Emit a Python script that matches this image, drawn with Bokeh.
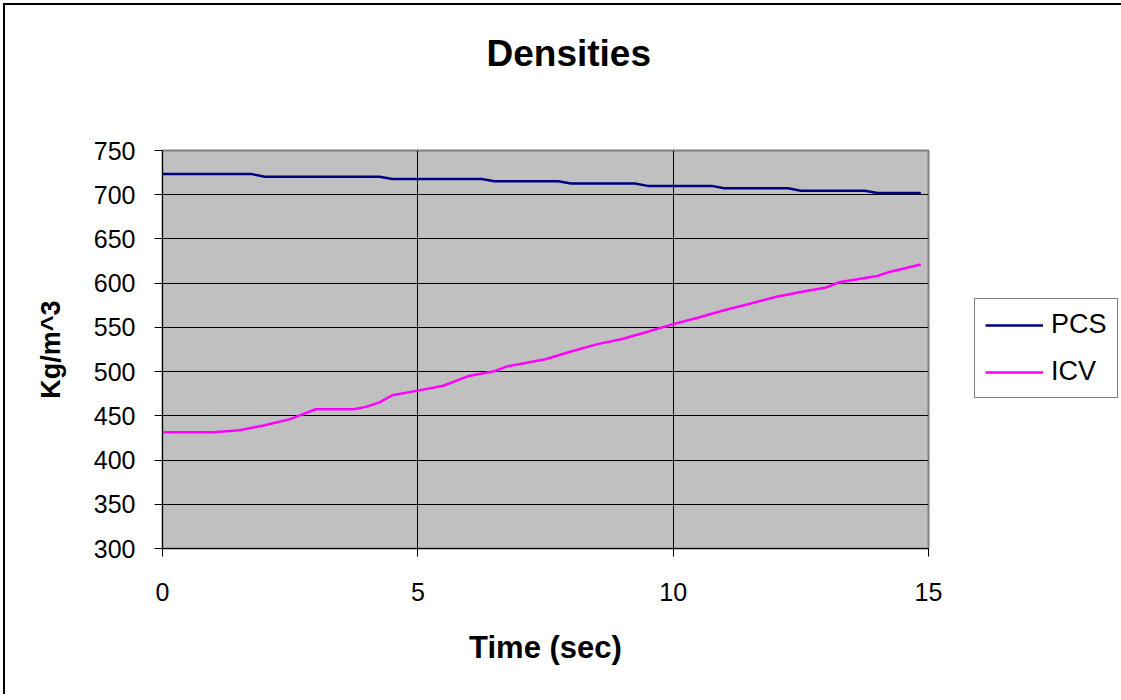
from bokeh.plotting import figure
from bokeh.models import FixedTicker, Legend, LegendItem, Title
from bokeh.embed import file_html
from bokeh.resources import INLINE

# ---- data ----
pcs_time = [0, 1.75, 2.0, 4.25, 4.5, 6.25, 6.5, 7.75, 8.0, 9.25, 9.5, 10.75,
            11.0, 12.25, 12.5, 13.75, 14.0, 14.85]
pcs_density = [723.3, 723.3, 720.4, 720.4, 717.8, 717.8, 715.2, 715.2, 712.6,
               712.6, 710.0, 710.0, 707.4, 707.4, 704.4, 704.4, 701.9, 701.9]

icv_time = [0, 0.5, 1.0, 1.5, 2.0, 2.5, 3.0, 3.75, 4.0, 4.25, 4.5, 5.0, 5.5,
            6.0, 6.5, 6.75, 7.5, 8.0, 8.5, 9.0, 9.5, 10.0, 10.5, 11.0, 11.5,
            12.0, 12.5, 13.0, 13.25, 14.0, 14.25, 14.85]
icv_density = [431.5, 431.5, 431.5, 433.7, 439.3, 446.3, 457.4, 457.4, 460.4,
               465.2, 473.3, 478.5, 484.0, 495.1, 500.5, 506.0, 514.0, 522.8,
               530.8, 536.8, 545.0, 553.7, 561.1, 569.3, 576.7, 584.4, 590.0,
               595.2, 601.0, 608.1, 613.0, 621.1]

x_ticks = [0, 5, 10, 15]
y_ticks = [300, 350, 400, 450, 500, 550, 600, 650, 700, 750]
series_names = ["PCS", "ICV"]
title_text = "Densities"

FONT = "Liberation Sans"

p = figure(output_backend="svg", toolbar_location=None,
           x_range=(0, 15), y_range=(300, 750),
           frame_width=766, frame_height=398,
           min_border_left=157, min_border_top=145,
           min_border_right=188, min_border_bottom=146)
p.styles = {"margin-left": "3px", "margin-top": "3px",
            "border-style": "solid none none solid",
            "border-width": "2px 0px 0px 2px",
            "border-color": "black"}

p.background_fill_color = "#C0C0C0"
p.border_fill_color = "white"
p.outline_line_color = "#808080"
p.outline_line_width = 2

# spacer between frame and title (added first -> closest to the frame)
spacer = Title(text=" ", text_font=FONT, text_font_size="1px",
               standoff=74, text_color="white")
p.add_layout(spacer, "above")
# main title
title = Title(text=title_text, text_font=FONT, text_font_style="bold",
              text_font_size="37px", text_color="black",
              align="left", offset=324, standoff=0)
p.add_layout(title, "above")

# axes
p.xaxis.ticker = FixedTicker(ticks=x_ticks)
p.yaxis.ticker = FixedTicker(ticks=y_ticks)
for ax in (p.xaxis[0], p.yaxis[0]):
    ax.axis_line_color = "black"
    ax.axis_line_width = 1
    ax.major_tick_in = 0
    ax.major_tick_out = 8
    ax.minor_tick_out = 0
    ax.minor_tick_in = 0
    ax.major_tick_line_color = "black"
    ax.major_label_text_font = FONT
    ax.major_label_text_font_size = "25px"
    ax.major_label_text_color = "black"
    ax.axis_label_text_font = FONT
    ax.axis_label_text_font_style = "bold"
    ax.axis_label_text_color = "black"

p.xaxis.axis_label = "Time (sec)"
p.yaxis.axis_label = "Kg/m^3"
p.xaxis.axis_label_text_font_size = "31px"
p.yaxis.axis_label_text_font_size = "27px"
p.xaxis.major_label_standoff = 26
p.yaxis.major_label_standoff = 19
p.xaxis.axis_label_standoff = 26
p.yaxis.axis_label_standoff = 25

# grid
p.xgrid.ticker = FixedTicker(ticks=x_ticks)
p.ygrid.ticker = FixedTicker(ticks=y_ticks)
p.xgrid.grid_line_color = "black"
p.ygrid.grid_line_color = "black"
p.xgrid.grid_line_width = 1
p.ygrid.grid_line_width = 1

# lines
r1 = p.line(pcs_time, pcs_density, line_color="#000080", line_width=2.5)
r2 = p.line(icv_time, icv_density, line_color="#FF00FF", line_width=2.5)

legend = Legend(items=[LegendItem(label=series_names[0], renderers=[r1]),
                       LegendItem(label=series_names[1], renderers=[r2])],
                location=(46, 150))
legend.label_text_font = FONT
legend.label_text_font_size = "27px"
legend.label_text_color = "black"
legend.glyph_width = 58
legend.glyph_height = 24
legend.label_height = 24
legend.label_standoff = 8
legend.padding = 10
legend.spacing = 16
legend.margin = 0
legend.border_line_color = "black"
legend.border_line_width = 1
legend.background_fill_color = "white"
legend.background_fill_alpha = 1
p.add_layout(legend, "right")

open("out.html", "w").write(file_html(p, INLINE))
